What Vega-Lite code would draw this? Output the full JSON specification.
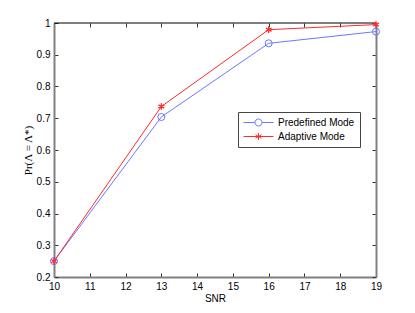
{
  "$schema": "https://vega.github.io/schema/vega-lite/v6.json",
  "width": 322,
  "height": 254,
  "autosize": "none",
  "padding": {"left": 54, "top": 23, "right": 39, "bottom": 36},
  "background": "white",
  "config": {
    "view": {"stroke": null},
    "font": "Liberation Sans",
    "axis": {"grid": false, "labelFont": "Liberation Sans", "labelFontSize": 10, "labelColor": "#000", "tickColor": "#333", "domainColor": "#808080", "domainWidth": 2, "tickSize": -4, "labelPadding": 8, "labelFlush": false, "labelBound": false, "labelOverlap": false, "titleFontWeight": "normal", "titleColor": "#000"}
  },
  "data": {
    "values": [
      {"snr": 10, "p": 0.25, "mode": "Predefined Mode"},
      {"snr": 13, "p": 0.704, "mode": "Predefined Mode"},
      {"snr": 16, "p": 0.936, "mode": "Predefined Mode"},
      {"snr": 19, "p": 0.973, "mode": "Predefined Mode"},
      {"snr": 10, "p": 0.25, "mode": "Adaptive Mode"},
      {"snr": 13, "p": 0.737, "mode": "Adaptive Mode"},
      {"snr": 16, "p": 0.979, "mode": "Adaptive Mode"},
      {"snr": 19, "p": 0.995, "mode": "Adaptive Mode"}
    ]
  },
  "layer": [
    {
      "mark": {"type": "rule", "color": "#000", "strokeWidth": 1},
      "data": {"values": [{"a": 10, "b": 19, "y": 1}]},
      "encoding": {
        "x": {"field": "a", "type": "quantitative", "scale": {"domain": [10, 19], "nice": false, "zero": false}, "axis": {"orient": "top", "values": [10,11,12,13,14,15,16,17,18,19], "labels": false, "title": null, "domain": false}},
        "x2": {"field": "b"},
        "y": {"field": "y", "type": "quantitative", "scale": {"domain": [0.2, 1], "nice": false, "zero": false}, "axis": {"orient": "right", "values": [0.2,0.3,0.4,0.5,0.6,0.7,0.8,0.9,1], "labels": false, "title": null}}
      }
    },
    {
      "mark": {"type": "line", "strokeWidth": 1},
      "encoding": {
        "x": {"field": "snr", "type": "quantitative", "axis": {"orient": "bottom", "values": [10,11,12,13,14,15,16,17,18,19], "title": "SNR", "titleFont": "Liberation Sans", "titleFontSize": 10, "titlePadding": 2}},
        "y": {"field": "p", "type": "quantitative", "axis": {"orient": "left", "values": [0.2,0.3,0.4,0.5,0.6,0.7,0.8,0.9,1], "format": ".1~f", "title": "Pr(Λ = Λ*)", "titleFont": "Liberation Serif", "titleFontSize": 11, "titlePadding": 3}},
        "color": {"field": "mode", "type": "nominal", "scale": {"domain": ["Predefined Mode", "Adaptive Mode"], "range": ["#6b78ff", "#ff2a2a"]}, "legend": {
          "orient": "none", "legendX": 184, "legendY": 89, "title": null,
          "strokeColor": "#444", "fillColor": "white", "padding": 5,
          "labelFont": "Liberation Sans", "labelFontSize": 10, "labelColor": "#000",
          "symbolType": "circle",
          "symbolSize": 100, "symbolOffset": 10, "symbolStrokeWidth": 1, "symbolFillColor": "transparent", "rowPadding": 3, "labelOffset": 14,
          "encode": {"symbols": {"update": {
            "shape": {"signal": "datum.value === 'Predefined Mode' ? 'M-3,0L-0.7,0M0.7,0L3,0M0.7,0A0.7,0.7 0 1 1 -0.7,0A0.7,0.7 0 1 1 0.7,0' : 'M-3,0L3,0M0,-0.7L0,0.7M-0.6,-0.35L0.6,0.35M-0.6,0.35L0.6,-0.35'"},
            "strokeWidth": {"value": 1},
            "fill": {"value": "transparent"}
          }}}
        }}
      }
    },
    {
      "transform": [{"filter": "datum.mode === 'Predefined Mode'"}],
      "mark": {"type": "point", "shape": "circle", "filled": false, "strokeWidth": 1, "size": 50, "opacity": 1},
      "encoding": {
        "x": {"field": "snr", "type": "quantitative", "axis": null},
        "y": {"field": "p", "type": "quantitative", "axis": null},
        "color": {"field": "mode", "type": "nominal"}
      }
    },
    {
      "transform": [{"filter": "datum.mode === 'Adaptive Mode'"}],
      "mark": {"type": "point", "shape": "M0,-1L0,1M-0.87,-0.5L0.87,0.5M-0.87,0.5L0.87,-0.5", "filled": false, "strokeWidth": 1.3, "size": 45, "opacity": 1},
      "encoding": {
        "x": {"field": "snr", "type": "quantitative", "axis": null},
        "y": {"field": "p", "type": "quantitative", "axis": null},
        "color": {"field": "mode", "type": "nominal"}
      }
    }
  ]
}
